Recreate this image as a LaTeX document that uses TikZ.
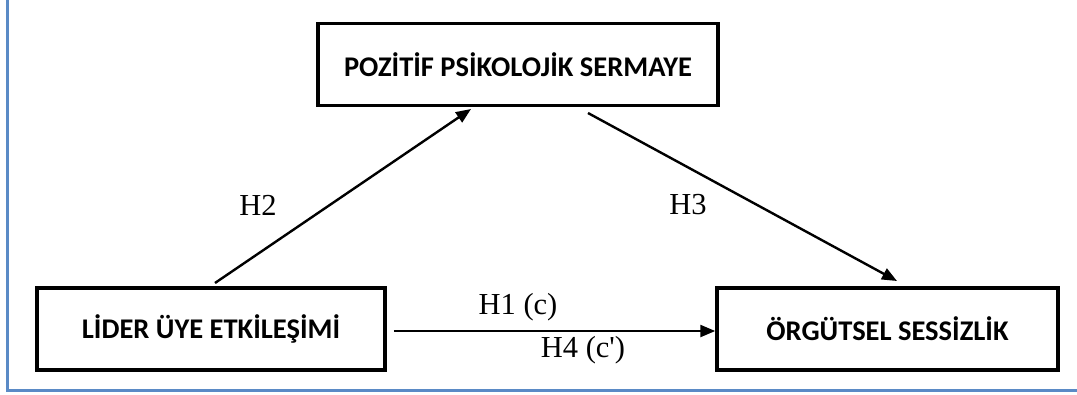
\documentclass[tikz,border=0pt]{standalone}
\usepackage{fontspec}
\setmainfont{Liberation Serif}
\newfontfamily\boxfont{Carlito}
\usetikzlibrary{arrows.meta}
\definecolor{frameblue}{HTML}{5A8AC6}
\begin{document}
\begin{tikzpicture}[x=1pt,y=-1pt,
  varbox/.style={draw=black, line width=3.5pt, minimum width=#1, minimum height=82pt,
    inner sep=0pt, font=\boxfont\bfseries\fontsize{28.5}{32}\selectfont},
  link/.style={draw=black, line width=2.4pt, -{Triangle[length=15pt,width=12pt]}},
  hlabel/.style={font=\fontsize{30.5}{34}\selectfont, inner sep=0pt}]
  \useasboundingbox (0,0) rectangle (1077,394);
  % frame along the left and bottom edges
  \draw[frameblue, line width=3pt] (7,0) -- (7,390.5) -- (1077,390.5);
  % variables
  \node[varbox=400pt] (psy) at (518,64.5) {POZİTİF PSİKOLOJİK SERMAYE};
  \node[varbox=348pt] (lmx) at (211,329) {LİDER ÜYE ETKİLEŞİMİ};
  \node[varbox=341pt] (sil) at (887.5,329) {ÖRGÜTSEL SESSİZLİK};
  % paths
  \coordinate (a2s) at (215,283);
  \coordinate (a2e) at (471,109);
  \coordinate (a3s) at (588,113);
  \coordinate (a3e) at (897,281);
  \path (lmx.east) ++(7pt,-2pt) coordinate (a1s);
  \draw[link] (a2s) -- (a2e);
  \draw[link] (a3s) -- (a3e);
  \draw[link] (a1s) -- (a1s -| sil.west);
  % hypothesis labels
  \node[hlabel] (h2) at (258,205) {H2};
  \node[hlabel] (h3) at (688,205) {H3};
  \node[hlabel] (h1) at (518,307) {H1 (c)};
  \node[hlabel] (h4) at (583,350) {H4 (c\textquotesingle)};
\end{tikzpicture}
\end{document}
